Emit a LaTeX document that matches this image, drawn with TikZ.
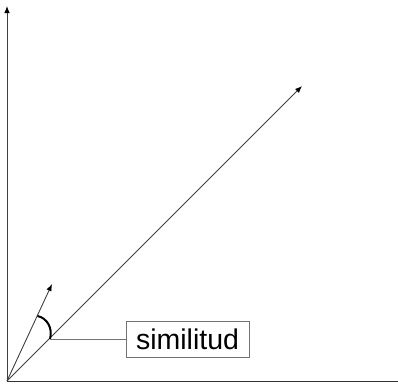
\documentclass[tikz,border=0pt]{standalone}
\usepackage{fontspec}
\setmainfont{Liberation Sans}
\usetikzlibrary{arrows.meta}
\begin{document}
\begin{tikzpicture}[x=1pt,y=-1pt,
  vec/.style={draw=black!75, line width=0.9pt, -{Latex[length=7pt,width=5.5pt,color=black]}},
  axis/.style={draw=black!80, line width=0.9pt},
  lbl/.style={draw=black!55, line width=0.8pt, fill=white, inner sep=4pt, minimum width=123pt, minimum height=36pt, font=\fontsize{28.5}{30}\selectfont}]
\useasboundingbox (0,0) rectangle (398,389);
\coordinate (O) at (7,381);
\coordinate (Ytop) at (7,6);
\coordinate (Xend) at (398,381);
\coordinate (A) at (302,86);
\coordinate (B) at (52,284);
\coordinate (arcS) at (37.5,316);
\coordinate (arcE) at (50,339);
\node[lbl] (sim) at (187.5,339) {similitud};
\draw[axis] (O) -- (Xend);
\draw[vec] (O) -- (Ytop);
\draw[vec] (O) -- (A);
\draw[vec] (O) -- (B);
\draw[black, line width=2pt] (arcS) .. controls (47,318) and (53,328) .. (arcE);
\draw[draw=black!55, line width=0.8pt] (arcE) -- (sim.west);
\end{tikzpicture}
\end{document}
